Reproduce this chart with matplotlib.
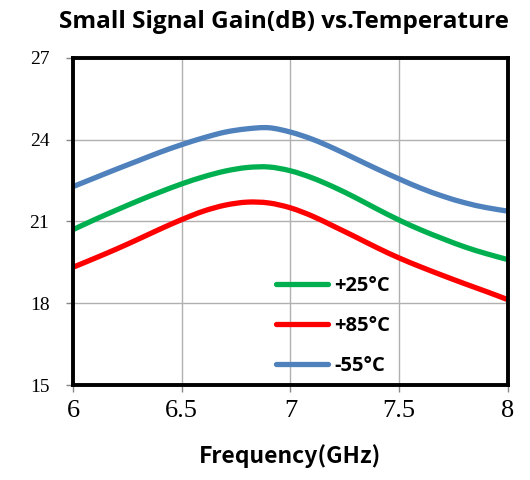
import matplotlib
matplotlib.use("Agg")
import matplotlib.pyplot as plt
from matplotlib.path import Path
from matplotlib.patches import PathPatch
from matplotlib.lines import Line2D

freq = [6.0, 6.1, 6.2, 6.3, 6.4, 6.5, 6.6, 6.7, 6.8, 6.9, 7.0,
        7.1, 7.2, 7.3, 7.4, 7.5, 7.6, 7.7, 7.8, 7.9, 8.0]
gain_25 = [20.70, 21.07, 21.42, 21.76, 22.08, 22.38, 22.64, 22.85, 22.98, 23.00, 22.86,
           22.60, 22.26, 21.87, 21.45, 21.05, 20.69, 20.37, 20.07, 19.82, 19.60]
gain_85 = [19.32, 19.65, 19.99, 20.35, 20.72, 21.07, 21.38, 21.60, 21.71, 21.68, 21.50,
           21.20, 20.82, 20.43, 20.03, 19.66, 19.33, 19.02, 18.72, 18.43, 18.13]
gain_m55 = [22.28, 22.60, 22.92, 23.23, 23.54, 23.82, 24.07, 24.28, 24.40, 24.44, 24.28,
            24.02, 23.68, 23.30, 22.92, 22.56, 22.22, 21.93, 21.69, 21.51, 21.38]
labels = ["+25°C", "+85°C", "-55°C"]
colors = ["#00b050", "#ff0000", "#4f81bd"]
xticks = [6, 6.5, 7, 7.5, 8]
xticklabels = ["6", "6.5", "7", "7.5", "8"]
yticks = [15, 18, 21, 24, 27]


def smooth_path(xs, ys):
    # smoothed line drawn as cubic Bezier segments through the data points
    verts = [(xs[0], ys[0])]
    codes = [Path.MOVETO]
    n = len(xs)
    for i in range(n - 1):
        x0, y0 = (xs[i - 1], ys[i - 1]) if i > 0 else (xs[i], ys[i])
        x1, y1 = xs[i], ys[i]
        x2, y2 = xs[i + 1], ys[i + 1]
        x3, y3 = (xs[i + 2], ys[i + 2]) if i + 2 < n else (x2, y2)
        c1 = (x1 + (x2 - x0) / 6.0, y1 + (y2 - y0) / 6.0)
        c2 = (x2 - (x3 - x1) / 6.0, y2 - (y3 - y1) / 6.0)
        verts += [c1, c2, (x2, y2)]
        codes += [Path.CURVE4] * 3
    return Path(verts, codes)


fig = plt.figure(figsize=(5.3, 4.8), dpi=100)
ax = fig.add_axes([0.1377, 0.1979, 0.8208, 0.6813])

handles = []
for ys, c, lab in zip([gain_25, gain_85, gain_m55], colors, labels):
    patch = PathPatch(smooth_path(freq, ys), facecolor="none", edgecolor=c,
                      lw=3.8, capstyle="round", joinstyle="round")
    ax.add_patch(patch)
    handles.append(Line2D([], [], color=c, lw=3.8, solid_capstyle="round", label=lab))

ax.set_xlim(6, 8)
ax.set_ylim(15, 27)
ax.set_xticks(xticks)
ax.set_xticklabels(xticklabels, fontfamily="Liberation Serif", fontsize=19)
ax.set_yticks(yticks)
ax.set_yticklabels([str(v) for v in yticks], fontfamily="Liberation Serif", fontsize=14)
ax.tick_params(axis="both", direction="out", length=5, width=1, color="#888888", pad=6)
ax.tick_params(axis="y", pad=12)
ax.grid(True, color="#b0b0b0", lw=1)
ax.set_axisbelow(True)
for sp in ax.spines.values():
    sp.set_linewidth(2.8)
    sp.set_color("black")

ax.set_xlabel("Frequency(GHz)", fontfamily=["Noto Sans CJK SC", "DejaVu Sans"],
              fontweight="bold", fontsize=16.5, labelpad=16)
fig.text(0.535, 0.954, "Small Signal Gain(dB) vs.Temperature", ha="center", va="center",
         fontfamily="Open Sans", fontweight="bold", fontsize=17.5)

leg = ax.legend(handles=handles, loc="upper left", bbox_to_anchor=(0.425, 0.39), frameon=False,
                handlelength=2.6, handletextpad=0.3, labelspacing=1.0,
                prop={"family": "Open Sans", "weight": "bold", "size": 14.5})

fig.savefig("out.png", dpi=100)
